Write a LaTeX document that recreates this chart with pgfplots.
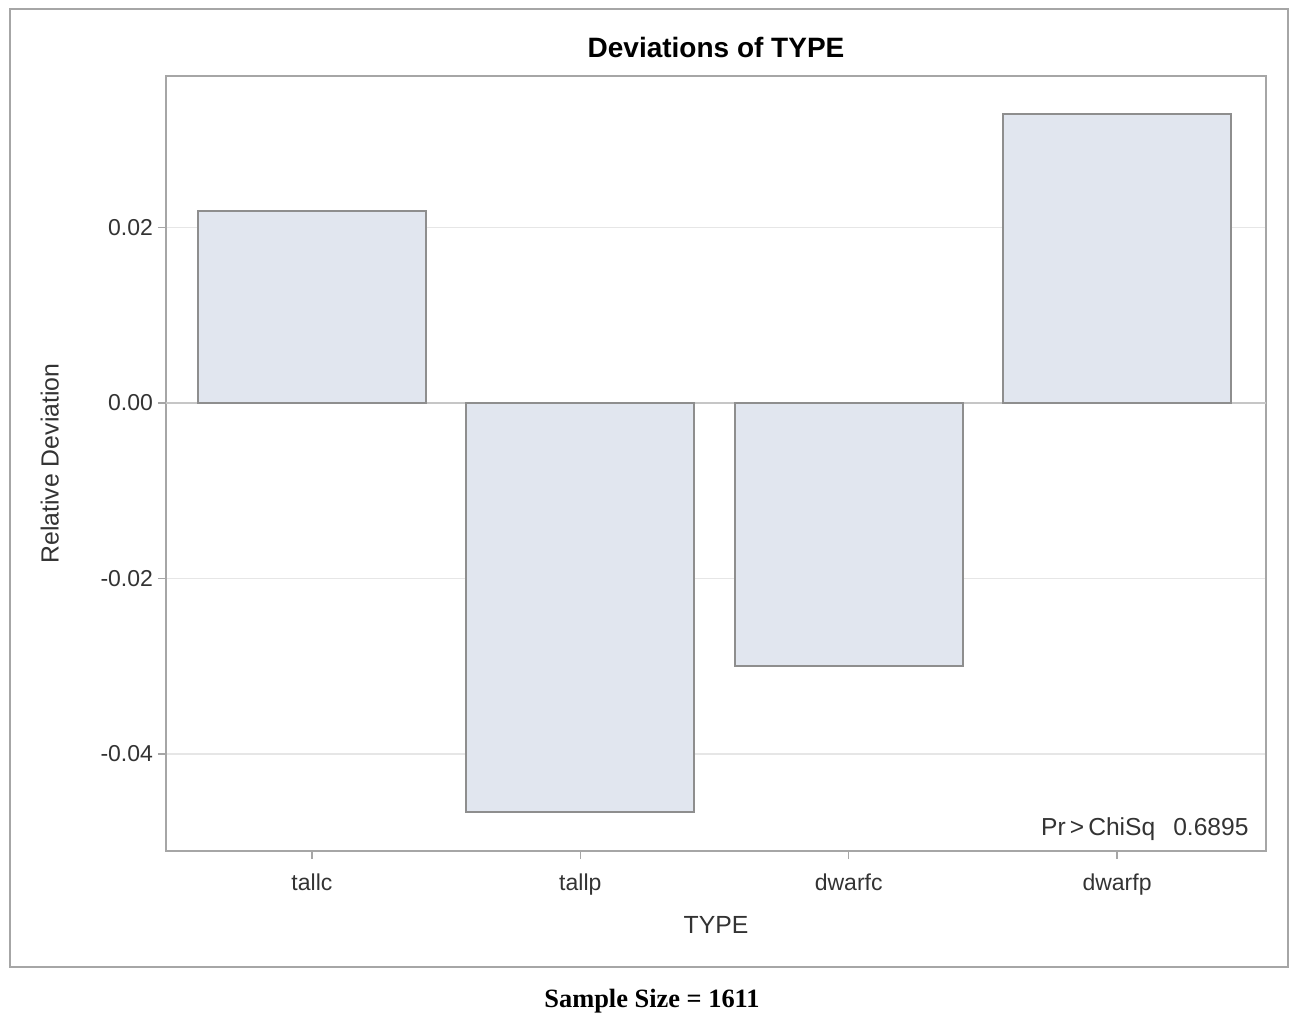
\documentclass[border=0pt]{standalone}
\usepackage{pgfplots}
\pgfplotsset{compat=1.18}
\usepackage{fontspec}
\setmainfont{Liberation Sans}
\newfontfamily\serifbold{Liberation Serif}
\definecolor{barfill}{HTML}{E1E6EF}
\definecolor{baredge}{HTML}{8E8E8E}
\definecolor{axisgray}{HTML}{A6A6A6}
\definecolor{gridgray}{HTML}{E6E6E6}
\definecolor{txt}{HTML}{333333}
\begin{document}
\begin{tikzpicture}
\path (0pt,0pt) rectangle (650pt,-512pt);
\draw[axisgray, line width=0.8pt] (5pt,-4.5pt) rectangle (644pt,-483.5pt);
\node[font=\fontsize{14}{16}\selectfont\bfseries, anchor=base] at (358pt,-28.5pt) {Deviations of TYPE};
\node[font=\serifbold\fontsize{13.2}{15}\selectfont\bfseries, anchor=base] at (326pt,-503.5pt) {Sample Size = 1611};
\begin{axis}[
  at={(83pt,-38pt)}, anchor=north west,
  scale only axis, width=550pt, height=387.5pt,
  xmin=-0.5438, xmax=3.555,
  ymin=-0.05105, ymax=0.03726,
  xtick={0,1,2,3}, xticklabels={tallc,tallp,dwarfc,dwarfp},
  ytick={-0.04,-0.02,0,0.02},
  scaled y ticks=false,
  yticklabel style={/pgf/number format/fixed, /pgf/number format/fixed zerofill, /pgf/number format/precision=2, xshift=1pt},
  /pgf/number format/assume math mode=true,
  ticklabel style={font=\fontsize{11.5}{13}\selectfont, text=txt},
  xticklabel style={yshift=-4pt},
  tick style={axisgray, line width=0.8pt},
  tick align=outside, major tick length=4pt,
  xtick pos=bottom, ytick pos=left,
  axis line style={axisgray, line width=0.8pt},
  ymajorgrids, grid style={gridgray, line width=0.6pt},
  xlabel={TYPE}, ylabel={Relative Deviation},
  label style={font=\fontsize{12.4}{14}\selectfont, text=txt},
  xlabel style={yshift=-3.5pt},
  ylabel style={yshift=14pt},
  ybar, bar width=114pt, bar shift=0pt,
  clip=false,
]
\draw[gray!45, line width=0.8pt] (axis cs:-0.5438,0) -- (axis cs:3.555,0);
\addplot[fill=barfill, draw=baredge, line width=0.9pt] coordinates {
  (0,0.02188) (1,-0.04661) (2,-0.02997) (3,0.03293)
};
\node[anchor=base east, inner sep=0pt, font=\fontsize{12.3}{14}\selectfont, text=txt] at (rel axis cs:0.9845,0.0194) {Pr\,>\,ChiSq\hspace{9pt}0.6895};
\end{axis}
\end{tikzpicture}
\end{document}
